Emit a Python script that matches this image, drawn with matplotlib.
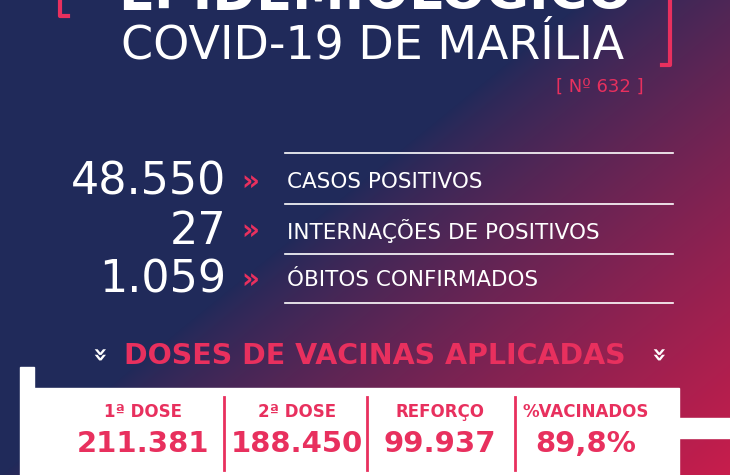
import numpy as np
import matplotlib
matplotlib.use('Agg')
import matplotlib.pyplot as plt
import matplotlib.patches as mpatches

# ── data ──────────────────────────────────────────────────────────────────────
stat_values = ['48.550', '27', '1.059']
stat_labels = ['CASOS POSITIVOS', 'INTERNAÇÕES DE POSITIVOS', 'ÓBITOS CONFIRMADOS']
dose_labels = ['1ª DOSE', '2ª DOSE', 'REFORÇO', '%VACINADOS']
dose_values = ['211.381', '188.450', '99.937', '89,8%']

W, H = 730, 475
RED = '#e8305e'
FONT = 'DejaVu Sans'

fig = plt.figure(figsize=(W / 100, H / 100), dpi=100)
ax = fig.add_axes([0, 0, 1, 1])
ax.set_xlim(0, W)
ax.set_ylim(H, 0)
ax.axis('off')

# gradient background: navy to crimson towards bottom-right
yy, xx = np.mgrid[0:H, 0:W]
t = np.clip((xx / W) * 1.0 + (yy / H) * 0.8 - 0.8, 0, 1) ** 0.8
c0 = np.array([0x20, 0x2a, 0x5a]) / 255
c1 = np.array([0xc8, 0x1d, 0x4c]) / 255
img = c0[None, None, :] * (1 - t[..., None]) + c1[None, None, :] * t[..., None]
ax.imshow(img, extent=[0, W, H, 0], zorder=0)

# header
ax.text(375, -6, 'EPIDEMIOLÓGICO', color='white', fontsize=38, fontweight='bold',
        ha='center', va='center', family=FONT)
ax.text(373, 46, 'COVID-19 DE MARÍLIA', color='white', fontsize=33,
        ha='center', va='center', family=FONT)
ax.plot([68, 60, 60, 68], [-2, -2, 16, 16], color=RED, lw=3)
ax.plot([662, 670, 670, 662], [-2, -2, 65, 65], color=RED, lw=3)
ax.text(600, 87, '[ Nº 632 ]', color=RED, fontsize=13, ha='center', va='center', family=FONT)

# stats
ys = [182, 231, 280]
for y0 in [153, 204, 254, 303]:
    ax.plot([285, 673], [y0, y0], color='white', lw=1.2)
for y, v, lab in zip(ys, stat_values, stat_labels):
    ax.text(226, y, v, color='white', fontsize=32, ha='right', va='center', family=FONT)
    ax.text(250, y, '»', color=RED, fontsize=20, fontweight='bold', ha='center', va='center')
    ax.text(287, y, lab, color='white', fontsize=15.5, ha='left', va='center', family=FONT)

# doses header
ax.text(375, 356, 'DOSES DE VACINAS APLICADAS', color=RED, fontsize=20.5, fontweight='bold',
        ha='center', va='center', family=FONT)
for x in [96, 655]:
    ax.text(x, 356, '»', color='white', fontsize=17, fontweight='bold',
            ha='center', va='center', rotation=-90)

# white panel
ax.add_patch(mpatches.Rectangle((34, 388), 645, 90, color='white', zorder=2))
ax.add_patch(mpatches.Rectangle((20, 367), 14, 110, color='white', zorder=2))
ax.add_patch(mpatches.Rectangle((679, 418), 55, 20, color='white', zorder=2))

xs = [143, 297, 440, 586]
for x in [224, 367, 515]:
    ax.plot([x, x], [397, 470], color=RED, lw=2, zorder=3)
for x, lab, v in zip(xs, dose_labels, dose_values):
    ax.text(x, 412, lab, color=RED, fontsize=12, fontweight='bold',
            ha='center', va='center', zorder=3, family=FONT)
    ax.text(x, 444, v, color=RED, fontsize=21, fontweight='bold',
            ha='center', va='center', zorder=3, family=FONT)

fig.savefig('out.png', dpi=100)
